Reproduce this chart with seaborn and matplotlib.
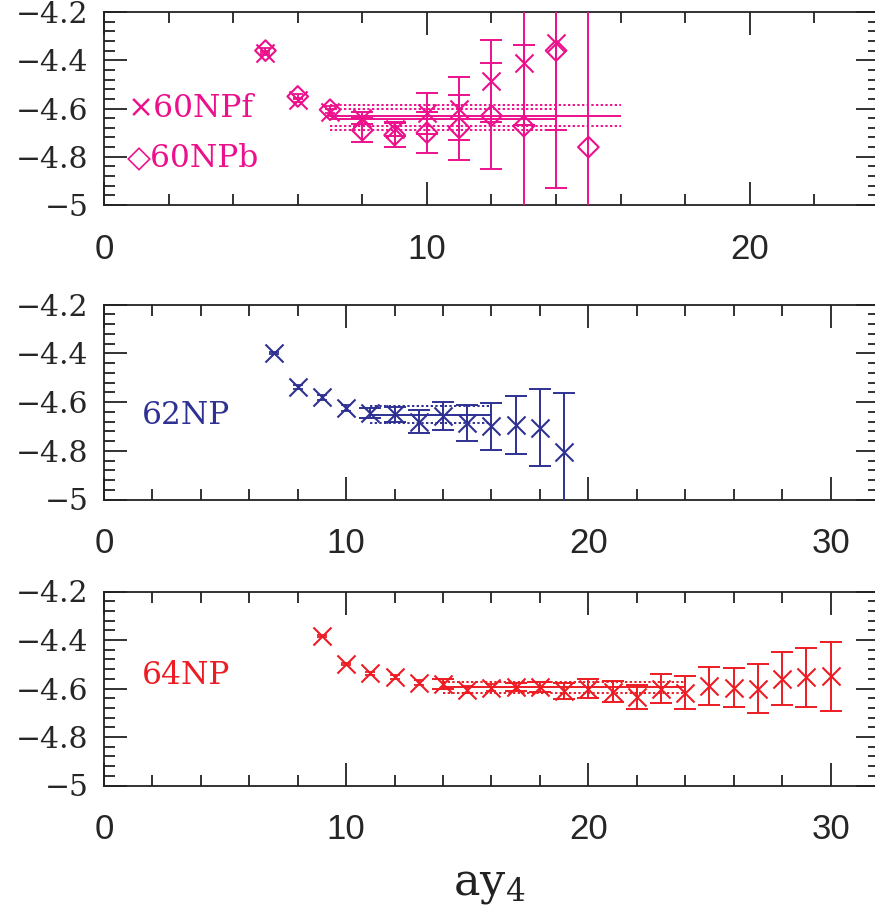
import numpy as np
import pandas as pd
import matplotlib
matplotlib.use("Agg")
import matplotlib.pyplot as plt
from matplotlib.ticker import MultipleLocator, FuncFormatter
import seaborn as sns

# ---------------- data ----------------
# panel 1: 60NP, forward (crosses) and backward (diamonds)
t_60f = [5, 6, 7, 8, 9, 10, 11, 12, 13, 14]
m_60f = [-4.37, -4.565, -4.615, -4.64, -4.685, -4.62, -4.60, -4.486, -4.41, -4.33]
e_60f = [0.01, 0.01, 0.015, 0.025, 0.03, 0.085, 0.13, 0.17, 0.26, 0.36]

t_60b = [5, 6, 7, 8, 9, 10, 11, 12, 13, 14, 15]
m_60b = [-4.36, -4.55, -4.605, -4.69, -4.71, -4.70, -4.68, -4.63, -4.673, -4.36, -4.76]
e_60b = [0.01, 0.01, 0.015, 0.05, 0.05, 0.085, 0.135, 0.22, 0.336, 0.57, 0.6]

# fits for panel 1: (t_start, t_end, value, error)
fit_60b = (7, 16, -4.630, 0.044)
fit_60f = (7, 14, -4.645, 0.043)

# panel 2: 62NP
t_62 = [7, 8, 9, 10, 11, 12, 13, 14, 15, 16, 17, 18, 19]
m_62 = [-4.40, -4.539, -4.58, -4.625, -4.645, -4.65, -4.68, -4.657, -4.686,
        -4.70, -4.694, -4.706, -4.804]
e_62 = [0.005, 0.008, 0.01, 0.012, 0.02, 0.03, 0.048, 0.056, 0.075,
        0.097, 0.12, 0.158, 0.24]
fit_62 = (11, 16, -4.652, 0.035)

# panel 3: 64NP
t_64 = list(range(9, 31))
m_64 = [-4.385, -4.50, -4.537, -4.553, -4.577, -4.58, -4.605, -4.597, -4.593,
        -4.593, -4.61, -4.60, -4.613, -4.635, -4.60, -4.617, -4.59, -4.597,
        -4.60, -4.56, -4.553, -4.55]
e_64 = [0.004, 0.005, 0.006, 0.008, 0.01, 0.02, 0.015, 0.015, 0.017, 0.02,
        0.034, 0.038, 0.042, 0.048, 0.058, 0.067, 0.078, 0.081, 0.10, 0.11,
        0.122, 0.142]
fit_64 = (14, 24, -4.595, 0.022)

labels = ["60NPf", "60NPb", "62NP", "64NP"]
y_ticks = [-5.0, -4.8, -4.6, -4.4, -4.2]
xlabel = "ay_4"

# ---------------- style ----------------
MAG = "#EC108C"
BLUE = "#2E3192"
RED = "#ED1C24"

sns.set_theme(style="ticks")
plt.rcParams["font.family"] = ["DejaVu Serif", "DejaVu Sans"]
plt.rcParams["mathtext.default"] = "regular"
plt.rcParams["axes.linewidth"] = 1.3

W, H = 875, 911
fig = plt.figure(figsize=(W / 100, H / 100), dpi=100)

def frac_axes(left, top, right, bottom):
    return fig.add_axes([left / W, 1 - bottom / H, (right - left) / W, (bottom - top) / H])

ax1 = frac_axes(104, 12, 879, 205)
ax2 = frac_axes(104, 304.5, 879, 499.5)
ax3 = frac_axes(104, 591.5, 879, 785.5)

MS = 13  # marker size in points


def draw_series(ax, t, m, e, color, marker):
    df = pd.DataFrame({"t": t, "m": m, "e": e})
    small = df[df["e"] < 0.016]
    big = df[df["e"] >= 0.016]
    if len(small):
        ax.errorbar(small["t"], small["m"], yerr=small["e"], fmt="none",
                    ecolor=color, elinewidth=1.3, capsize=3.5, capthick=1.3,
                    zorder=3)
    if len(big):
        ax.errorbar(big["t"], big["m"], yerr=big["e"], fmt="none",
                    ecolor=color, elinewidth=1.4, capsize=8, capthick=1.4,
                    zorder=3)
    if marker == "x":
        sns.scatterplot(data=df, x="t", y="m", ax=ax, marker="x", s=MS ** 2,
                        color=color, linewidth=1.5, zorder=4, legend=False)
    else:
        sns.scatterplot(data=df, x="t", y="m", ax=ax, marker="D", s=10.5 ** 2,
                        facecolor="none", edgecolor=color, linewidth=1.5,
                        zorder=4, legend=False)


def draw_fit(ax, fit, color):
    t0, t1, v, err = fit
    ax.hlines(v, t0, t1, colors=color, linewidth=1.4, zorder=2)
    ax.hlines([v - err, v + err], t0, t1, colors=color, linewidth=1.4,
              linestyles=(0, (1.2, 1.2)), zorder=2)


def style_axes(ax, xmax):
    ax.set_xlim(0, xmax)
    ax.set_ylim(-5.0, -4.2)
    ax.set_xticks([v for v in range(0, xmax + 1, 10)])
    ax.xaxis.set_minor_locator(MultipleLocator(2))
    ax.set_yticks(y_ticks)
    ax.yaxis.set_minor_locator(MultipleLocator(0.04))
    ax.yaxis.set_major_formatter(FuncFormatter(lambda v, p: "\u2212" + f"{abs(v):g}"))
    ax.tick_params(which="both", direction="in", top=True, right=True,
                   color="#222222", width=1.3)
    ax.tick_params(which="major", length=16.5)
    ax.tick_params(which="minor", length=8)
    ax.tick_params(axis="y", which="major", labelsize=21.5, pad=11)
    ax.tick_params(axis="x", which="major", labelsize=25, pad=20,
                   labelfontfamily="Liberation Sans")
    ax.set_xlabel("")
    ax.set_ylabel("")
    for s in ax.spines.values():
        s.set_color("#222222")


# panel 1
draw_fit(ax1, fit_60b, MAG)
draw_fit(ax1, fit_60f, MAG)
draw_series(ax1, t_60f, m_60f, e_60f, MAG, "x")
draw_series(ax1, t_60b, m_60b, e_60b, MAG, "D")
style_axes(ax1, 24)
ax1.text(0.03, 0.50, "\u00d7" + labels[0], transform=ax1.transAxes, color=MAG,
         fontsize=22.5, va="center", ha="left")
ax1.text(0.03, 0.245, "\u25c7" + labels[1], transform=ax1.transAxes, color=MAG,
         fontsize=22.5, va="center", ha="left")

# panel 2
draw_fit(ax2, fit_62, BLUE)
draw_series(ax2, t_62, m_62, e_62, BLUE, "x")
style_axes(ax2, 32)
ax2.text(0.049, 0.43, labels[2], transform=ax2.transAxes, color=BLUE,
         fontsize=22.5, va="center", ha="left")

# panel 3
draw_fit(ax3, fit_64, RED)
draw_series(ax3, t_64, m_64, e_64, RED, "x")
style_axes(ax3, 32)
ax3.text(0.049, 0.565, labels[3], transform=ax3.transAxes, color=RED,
         fontsize=22.5, va="center", ha="left")

fig.text(489 / W, 1 - 884 / H, "$" + xlabel + "$", ha="center", va="center",
         fontsize=32, color="#222222")

fig.savefig("out.png", dpi=100)
